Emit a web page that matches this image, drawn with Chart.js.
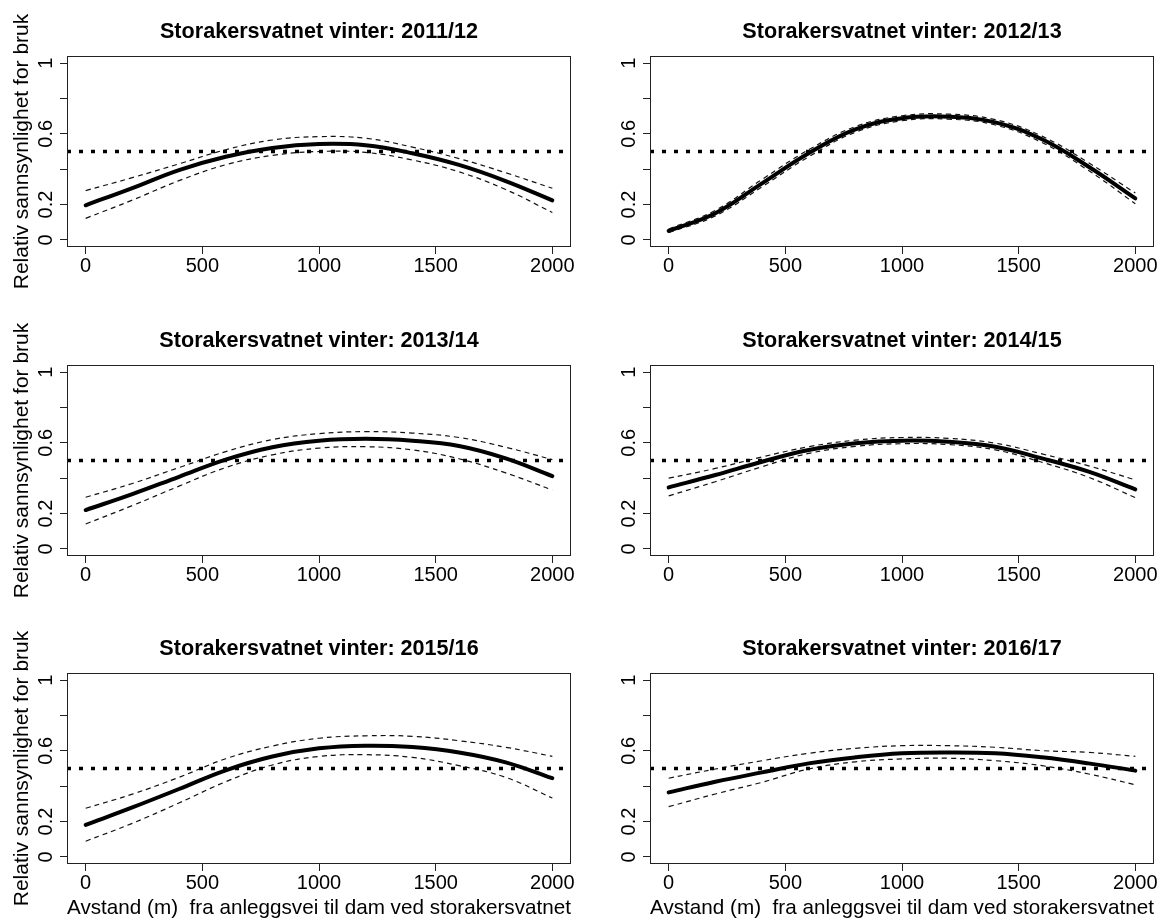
<!DOCTYPE html>
<html>
<head>
<meta charset="utf-8">
<title>Storakersvatnet vinter</title>
<script src="https://cdn.jsdelivr.net/npm/chart.js@4.4.1/dist/chart.umd.min.js"></script>
<style>
  html, body { margin: 0; padding: 0; background: #fff; }
  body { width: 1169px; height: 921px; position: relative; overflow: hidden; }
  canvas { position: absolute; }
</style>
</head>
<body>
<script>
// distance (m) from the construction road where the curves were read
const distance = [0, 200, 400, 600, 800, 1000, 1200, 1400, 1600, 1800, 2000];

// fitted relative probability + dashed confidence band, one set per winter
const fit1112   = [0.196, 0.293, 0.395, 0.470, 0.520, 0.542, 0.535, 0.490, 0.424, 0.333, 0.224];
const upper1112 = [0.279, 0.352, 0.430, 0.510, 0.565, 0.584, 0.575, 0.525, 0.460, 0.380, 0.292];
const lower1112 = [0.122, 0.225, 0.335, 0.425, 0.478, 0.500, 0.495, 0.452, 0.385, 0.285, 0.155];

const fit1213   = [0.051, 0.151, 0.320, 0.490, 0.625, 0.688, 0.697, 0.665, 0.569, 0.414, 0.235];
const upper1213 = [0.062, 0.167, 0.342, 0.510, 0.641, 0.702, 0.711, 0.680, 0.587, 0.436, 0.265];
const lower1213 = [0.041, 0.136, 0.300, 0.470, 0.609, 0.674, 0.683, 0.650, 0.551, 0.392, 0.205];

const fit1314   = [0.220, 0.310, 0.408, 0.505, 0.575, 0.612, 0.623, 0.612, 0.582, 0.512, 0.412];
const upper1314 = [0.292, 0.370, 0.460, 0.550, 0.618, 0.652, 0.663, 0.655, 0.630, 0.575, 0.505];
const lower1314 = [0.141, 0.245, 0.355, 0.460, 0.532, 0.570, 0.578, 0.560, 0.510, 0.430, 0.333];

const fit1415   = [0.348, 0.418, 0.493, 0.559, 0.597, 0.612, 0.606, 0.578, 0.512, 0.437, 0.337];
const upper1415 = [0.400, 0.455, 0.520, 0.578, 0.615, 0.630, 0.625, 0.598, 0.537, 0.470, 0.390];
const lower1415 = [0.300, 0.380, 0.465, 0.540, 0.580, 0.595, 0.590, 0.560, 0.490, 0.405, 0.290];

const fit1516   = [0.181, 0.280, 0.384, 0.490, 0.568, 0.614, 0.629, 0.621, 0.591, 0.535, 0.445];
const upper1516 = [0.275, 0.355, 0.450, 0.555, 0.627, 0.671, 0.685, 0.682, 0.657, 0.620, 0.569];
const lower1516 = [0.089, 0.190, 0.305, 0.425, 0.520, 0.568, 0.578, 0.563, 0.516, 0.450, 0.333];

const fit1617   = [0.365, 0.425, 0.478, 0.529, 0.563, 0.586, 0.591, 0.586, 0.563, 0.529, 0.488];
const upper1617 = [0.445, 0.497, 0.544, 0.586, 0.614, 0.629, 0.629, 0.620, 0.601, 0.591, 0.569];
const lower1617 = [0.284, 0.356, 0.422, 0.497, 0.538, 0.554, 0.558, 0.544, 0.516, 0.469, 0.408];

const seasons = ['2011/12', '2012/13', '2013/14', '2014/15', '2015/16', '2016/17'];
const xTicks = [0, 500, 1000, 1500, 2000];
const yTicks = [0, 0.2, 0.4, 0.6, 0.8, 1];
const yTickLabels = ['0', '0.2', '', '0.6', '', '1'];
const threshold = 0.5;
const xMin = -80, xMax = 2080;
const yMin = -0.04, yMax = 1.04;

const xTitle = 'Avstand (m)  fra anleggsvei til dam ved storakersvatnet';
const yTitle = 'Relativ sannsynlighet for bruk';

const FONT = '"Liberation Sans", Arial, sans-serif';

const panels = [
    { season: seasons[0], fit: fit1112, upper: upper1112, lower: lower1112 },
    { season: seasons[1], fit: fit1213, upper: upper1213, lower: lower1213 },
    { season: seasons[2], fit: fit1314, upper: upper1314, lower: lower1314 },
    { season: seasons[3], fit: fit1415, upper: upper1415, lower: lower1415 },
    { season: seasons[4], fit: fit1516, upper: upper1516, lower: lower1516 },
    { season: seasons[5], fit: fit1617, upper: upper1617, lower: lower1617 }
];

// page grid
const colLeft = [0, 583];
const colWidth = [583, 586];
const rowTop = [0, 309, 617];
const H = 309;
const AREA_LEFT = 67, AREA_RIGHT = 571, AREA_TOP = 56, AREA_BOTTOM = 247;

const pairs = ys => distance.map((d, i) => ({ x: d, y: ys[i] }));

// box round the plot region and bold title above it (R style)
const panelDecor = {
    id: 'panelDecor',
    afterDraw(chart, args, opts) {
        const { ctx, chartArea: a } = chart;
        ctx.save();
        ctx.strokeStyle = '#222';
        ctx.lineWidth = 1;
        ctx.strokeRect(a.left + 0.5, a.top + 0.5, a.width - 1, a.height - 1);
        ctx.fillStyle = '#000';
        ctx.font = `bold 21.6px ${FONT}`;
        ctx.textAlign = 'center';
        ctx.textBaseline = 'alphabetic';
        ctx.fillText(opts.title, (a.left + a.right) / 2, 38);
        ctx.restore();
    }
};

panels.forEach((p, i) => {
    const col = i % 2;
    const row = Math.floor(i / 2);

    const canvas = document.createElement('canvas');
    canvas.width = colWidth[col];
    canvas.height = H;
    canvas.style.left = colLeft[col] + 'px';
    canvas.style.top = rowTop[row] + 'px';
    document.body.appendChild(canvas);

    const dashed = { borderColor: '#111', borderWidth: 1.2, borderDash: [5, 4], pointRadius: 0, tension: 0.4 };

    new Chart(canvas, {
        type: 'line',
        data: {
            datasets: [
                { data: [{ x: xMin, y: threshold }, { x: xMax, y: threshold }], borderColor: '#000', borderWidth: 3.5, borderDash: [4, 8], pointRadius: 0 },
                { data: pairs(p.upper), ...dashed },
                { data: pairs(p.lower), ...dashed },
                { data: pairs(p.fit), borderColor: '#000', borderWidth: 4, pointRadius: 0, tension: 0.4, borderCapStyle: 'round', borderJoinStyle: 'round' }
            ]
        },
        options: {
            responsive: false,
            animation: false,
            events: [],
            layout: { padding: { left: 0, right: colWidth[col] - AREA_RIGHT, top: AREA_TOP, bottom: 0 } },
            plugins: {
                legend: { display: false },
                tooltip: { enabled: false },
                panelDecor: { title: 'Storakersvatnet vinter: ' + p.season }
            },
            scales: {
                x: {
                    type: 'linear',
                    min: xMin,
                    max: xMax,
                    bounds: 'data',
                    afterBuildTicks: s => { s.ticks = xTicks.map(v => ({ value: v })); },
                    afterFit: s => { s.height = H - AREA_BOTTOM; },
                    grid: { drawOnChartArea: false, drawTicks: true, tickLength: 7, tickColor: '#222', lineWidth: 1 },
                    border: { display: false },
                    ticks: {
                        autoSkip: false, maxRotation: 0, minRotation: 0, padding: 0, color: '#000',
                        font: { family: FONT, size: 20 },
                        callback: v => String(v)
                    },
                    title: {
                        display: row === 2, text: xTitle, color: '#000',
                        font: { family: FONT, size: 21 },
                        padding: { top: 0, bottom: 5 }
                    }
                },
                y: {
                    type: 'linear',
                    min: yMin,
                    max: yMax,
                    bounds: 'data',
                    afterBuildTicks: s => { s.ticks = yTicks.map(v => ({ value: v })); },
                    afterFit: s => { s.width = AREA_LEFT; },
                    grid: { drawOnChartArea: false, drawTicks: true, tickLength: 7, tickColor: '#222', lineWidth: 1 },
                    border: { display: false },
                    ticks: {
                        autoSkip: false, minRotation: 90, maxRotation: 90, padding: 0, crossAlign: 'center', color: '#000',
                        font: { family: FONT, size: 20 },
                        callback: (v, idx) => yTickLabels[idx]
                    },
                    title: {
                        display: col === 0, text: yTitle, color: '#000',
                        font: { family: FONT, size: 21 },
                        padding: { top: 10, bottom: 0 }
                    }
                }
            }
        },
        plugins: [panelDecor]
    });
});
</script>
</body>
</html>
